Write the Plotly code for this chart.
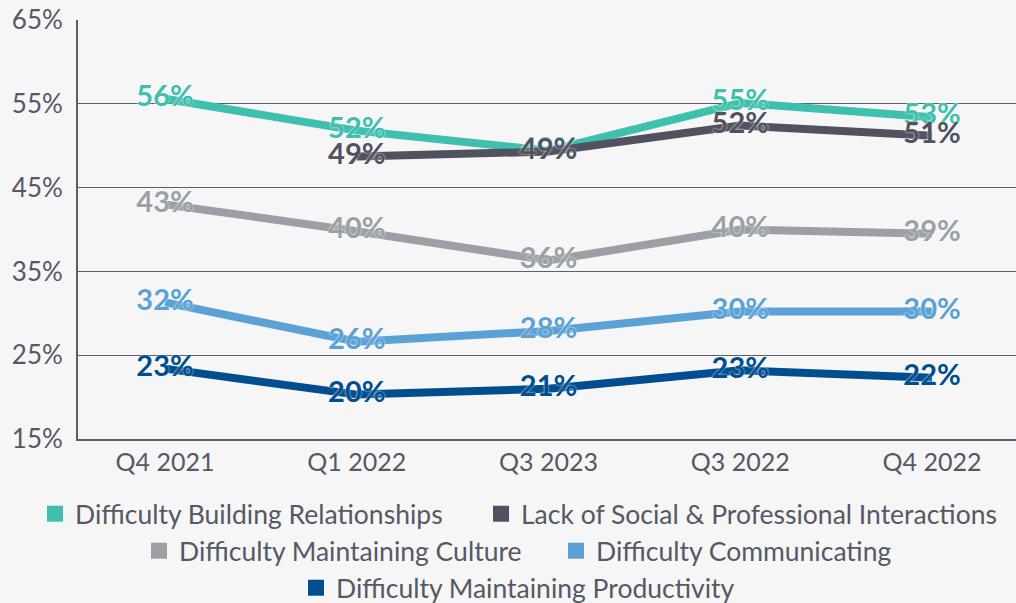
import plotly.graph_objects as go

quarters = ["Q4 2021", "Q1 2022", "Q3 2023", "Q3 2022", "Q4 2022"]

building = [55.6, 51.8, 49.4, 55.1, 53.4]
social = [None, 48.7, 49.3, 52.4, 51.2]
culture = [43.0, 39.8, 36.3, 40.0, 39.5]
communicating = [31.3, 26.6, 27.9, 30.2, 30.2]
productivity = [23.4, 20.3, 21.0, 23.2, 22.3]

building_lbl = ["56%", "52%", "49%", "55%", "53%"]
social_lbl = [None, "49%", "49%", "52%", "51%"]
culture_lbl = ["43%", "40%", "36%", "40%", "39%"]
communicating_lbl = ["32%", "26%", "28%", "30%", "30%"]
productivity_lbl = ["23%", "20%", "21%", "23%", "22%"]

y_ticks = [15, 25, 35, 45, 55, 65]
y_tick_text = ["15%", "25%", "35%", "45%", "55%", "65%"]

names = [
    "Difficulty Building Relationships",
    "Lack of Social & Professional Interactions",
    "Difficulty Maintaining Culture",
    "Difficulty Communicating",
    "Difficulty Maintaining Productivity",
]
series = [building, social, culture, communicating, productivity]
labels = [building_lbl, social_lbl, culture_lbl, communicating_lbl, productivity_lbl]
colors = ["#3fbfad", "#50535f", "#9aa0a6", "#5aa2d5", "#004e8f"]

# legend placement (pixels: square left edge, row centre)
legend_ids = ["legend", "legend2", "legend3", "legend4", "legend5"]
legend_px = [(45, 514), (491, 514), (149, 551), (566, 551), (306, 588)]

TEXT = "#555865"
FONT = "Lato"
halo = "0px 0px 2px #ffffff"
W, H = 1016, 603

fig = go.Figure()
for name, vals, lbl, col in zip(names, series, labels, colors):
    fig.add_trace(go.Scatter(
        x=quarters, y=vals, mode="lines+text",
        line=dict(color=col, width=8),
        text=lbl,
        textposition="middle center",
        textfont=dict(family=FONT, size=29, color=col, weight="bold", shadow=halo),
        showlegend=False, connectgaps=False, cliponaxis=False,
        hoverinfo="skip",
    ))

for name, col, lg in zip(names, colors, legend_ids):
    fig.add_trace(go.Scatter(
        x=[None], y=[None], mode="markers", name=name,
        marker=dict(symbol="square", size=20, color=col),
        legend=lg, showlegend=True,
    ))

legends = {}
for lg, (px, py) in zip(legend_ids, legend_px):
    legends[lg] = dict(
        orientation="h", xref="container", yref="container",
        x=(px - 10) / W, xanchor="left", y=1 - py / H, yanchor="middle",
        font=dict(family=FONT, size=26.5, color=TEXT),
        bgcolor="rgba(0,0,0,0)", itemwidth=30,
    )

fig.update_layout(
    width=W, height=H,
    margin=dict(l=78, r=0, t=20, b=164, autoexpand=False),
    paper_bgcolor="#f6f6f6", plot_bgcolor="#f6f6f6",
    font=dict(family=FONT, size=24, color=TEXT),
    **legends,
    xaxis=dict(
        type="category", range=[-0.454, 4.438],
        showgrid=False, showline=True, linecolor="#5b5e6a", linewidth=2,
        ticks="", tickfont=dict(family=FONT, size=25, color=TEXT),
    ),
    yaxis=dict(
        range=[15, 65], tickvals=y_ticks, ticktext=y_tick_text,
        showgrid=True, gridcolor="#5b5e6a", gridwidth=1,
        showline=True, linecolor="#5b5e6a", linewidth=2,
        zeroline=False, ticks="", ticklabelstandoff=8,
        tickfont=dict(family=FONT, size=26, color=TEXT),
    ),
)

fig.write_html("out.html",
               config={"displayModeBar": False},
               post_script="document.body.style.margin='0';document.body.style.background='#f6f6f6';")
